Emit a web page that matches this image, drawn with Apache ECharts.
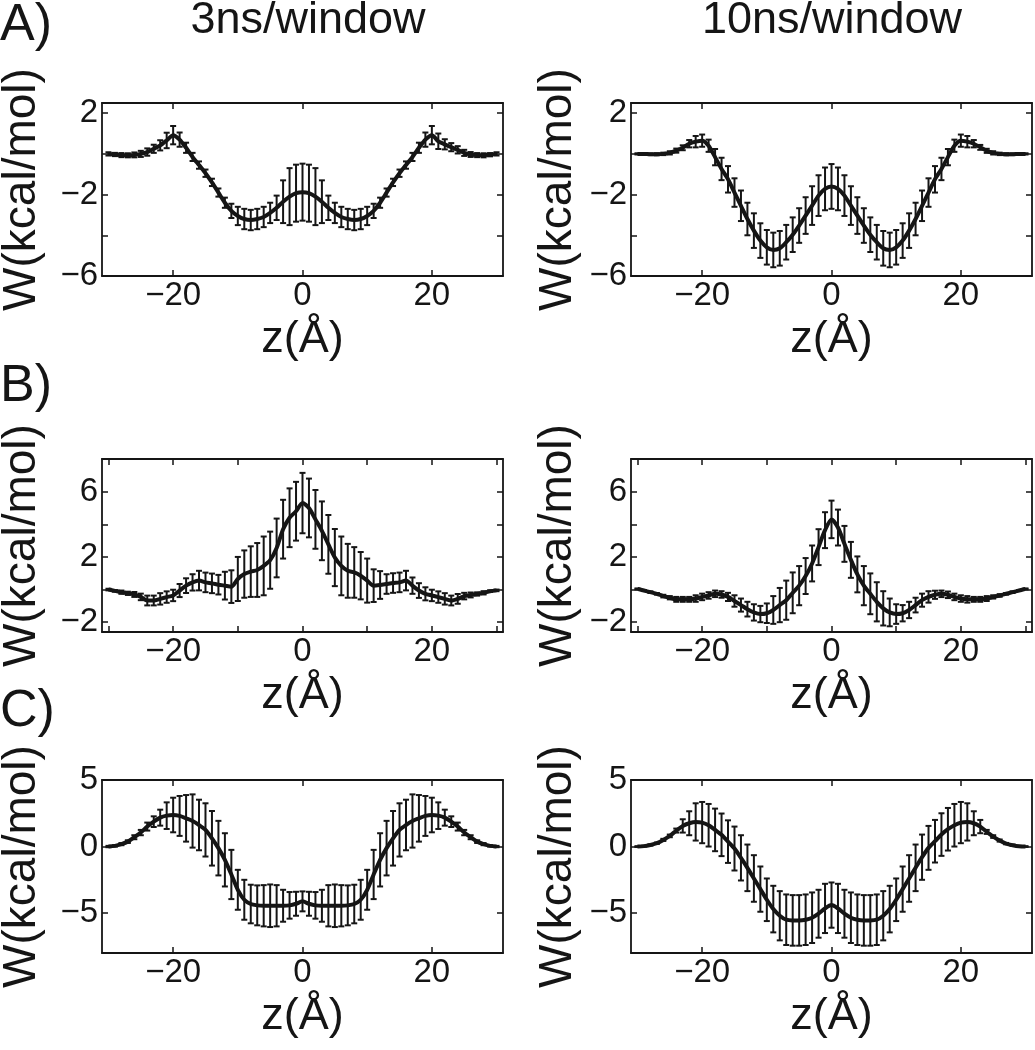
<!DOCTYPE html>
<html>
<head>
<meta charset="utf-8">
<script src="https://cdn.jsdelivr.net/npm/echarts@6/dist/echarts.min.js"></script>
<style>
html,body{margin:0;padding:0;background:#fff;}
#chart{width:1035px;height:1050px;}
</style>
</head>
<body>
<div id="chart"></div>
<script>
// z positions (Å)
const zVals = [-30,-29,-28,-27,-26,-25,-24,-23,-22,-21,-20,-19,-18,-17,-16,-15,-14,-13,-12,-11,-10,-9,-8,-7,-6,-5,-4,-3,-2,-1,0,1,2,3,4,5,6,7,8,9,10,11,12,13,14,15,16,17,18,19,20,21,22,23,24,25,26,27,28,29,30];

// Panel A, 3ns/window
const A3_W = [0,-0.03,-0.06,-0.07,-0.05,0,0.09,0.25,0.42,0.66,0.92,0.7,0.3,-0.15,-0.55,-0.95,-1.4,-1.9,-2.4,-2.8,-3.05,-3.2,-3.25,-3.2,-3.1,-2.9,-2.65,-2.35,-2.1,-1.93,-1.88,-1.93,-2.1,-2.35,-2.65,-2.9,-3.1,-3.2,-3.25,-3.2,-3.05,-2.8,-2.4,-1.9,-1.4,-0.95,-0.55,-0.15,0.3,0.7,0.92,0.62,0.47,0.33,0.2,0.05,-0.03,-0.06,-0.07,-0.04,0];
const A3_E = [0.08,0.08,0.1,0.1,0.12,0.15,0.18,0.2,0.25,0.38,0.45,0.35,0.25,0.2,0.18,0.18,0.18,0.2,0.25,0.35,0.45,0.5,0.5,0.5,0.5,0.5,0.6,1.05,1.4,1.4,1.4,1.4,1.4,1.05,0.6,0.5,0.5,0.5,0.5,0.5,0.45,0.35,0.25,0.2,0.18,0.18,0.18,0.2,0.25,0.35,0.45,0.38,0.25,0.2,0.18,0.15,0.12,0.1,0.1,0.08,0.08];

// Panel A, 10ns/window
const A10_W = [0,0,-0.02,-0.02,0,0.05,0.16,0.3,0.5,0.6,0.65,0.4,-0.16,-0.74,-1.25,-1.9,-2.55,-3.2,-3.77,-4.26,-4.59,-4.72,-4.64,-4.34,-3.97,-3.52,-3.03,-2.54,-2.05,-1.72,-1.6,-1.72,-2.05,-2.54,-3.03,-3.52,-3.97,-4.34,-4.64,-4.72,-4.59,-4.26,-3.77,-3.2,-2.55,-1.9,-1.25,-0.74,-0.16,0.4,0.65,0.6,0.5,0.32,0.15,0.05,0,-0.02,-0.02,0,0];
const A10_E = [0.03,0.03,0.04,0.05,0.06,0.08,0.1,0.12,0.18,0.28,0.3,0.3,0.4,0.55,0.65,0.7,0.75,0.8,0.85,0.85,0.85,0.85,0.85,0.85,0.85,0.85,0.9,0.95,1.0,1.05,1.1,1.05,1.0,0.95,0.9,0.85,0.85,0.85,0.85,0.85,0.85,0.85,0.85,0.8,0.75,0.7,0.65,0.55,0.4,0.3,0.3,0.28,0.18,0.12,0.1,0.08,0.06,0.05,0.04,0.03,0.03];

// Panel B, 3ns/window
const B3_W = [0,-0.08,-0.16,-0.23,-0.3,-0.45,-0.67,-0.67,-0.57,-0.46,-0.36,-0.06,0.24,0.44,0.55,0.44,0.38,0.3,0.24,0.18,0.65,0.95,1.1,1.2,1.45,1.8,2.55,3.7,4.4,4.8,5.3,5.0,4.3,3.6,2.77,1.96,1.45,1.15,1.05,0.85,0.55,0.24,0.28,0.34,0.4,0.44,0.55,0.24,-0.06,-0.26,-0.36,-0.46,-0.57,-0.67,-0.57,-0.4,-0.33,-0.27,-0.2,-0.1,-0.05];
const B3_E = [0.05,0.05,0.1,0.1,0.15,0.2,0.3,0.3,0.35,0.35,0.35,0.4,0.45,0.5,0.6,0.6,0.6,0.6,0.85,1.0,1.35,1.45,1.55,1.65,1.8,1.75,1.8,1.8,1.8,1.8,1.85,1.8,1.8,1.8,1.8,1.75,1.8,1.65,1.55,1.45,1.35,1.0,0.85,0.6,0.6,0.6,0.6,0.5,0.45,0.4,0.35,0.35,0.35,0.3,0.3,0.2,0.15,0.1,0.1,0.05,0.05];

// Panel B, 10ns/window
const B10_W = [0.04,-0.06,-0.16,-0.26,-0.4,-0.5,-0.6,-0.6,-0.6,-0.55,-0.45,-0.36,-0.26,-0.3,-0.45,-0.7,-0.95,-1.2,-1.4,-1.5,-1.45,-1.25,-0.95,-0.65,-0.2,0.24,0.83,1.6,2.6,3.64,4.3,3.8,2.8,1.82,0.93,0.24,-0.26,-0.75,-1.15,-1.4,-1.5,-1.45,-1.25,-0.95,-0.65,-0.45,-0.32,-0.26,-0.32,-0.45,-0.55,-0.6,-0.6,-0.6,-0.55,-0.45,-0.36,-0.26,-0.16,-0.06,0.04];
const B10_E = [0.03,0.03,0.05,0.05,0.08,0.1,0.15,0.15,0.15,0.2,0.2,0.2,0.2,0.2,0.25,0.35,0.4,0.45,0.5,0.5,0.6,0.85,1.05,1.2,1.25,1.2,1.1,1.1,1.1,1.1,1.15,1.1,1.1,1.1,1.1,1.2,1.25,1.2,1.05,0.85,0.6,0.5,0.5,0.45,0.4,0.35,0.25,0.2,0.2,0.2,0.2,0.2,0.15,0.15,0.15,0.1,0.08,0.05,0.05,0.03,0.03];

// Panel C, 3ns/window
const C3_W = [0,0.05,0.18,0.37,0.7,1.05,1.5,1.87,2.17,2.32,2.37,2.3,2.12,1.92,1.62,1.25,0.62,-0.12,-1.0,-2.1,-3.25,-4.0,-4.32,-4.42,-4.45,-4.45,-4.45,-4.45,-4.42,-4.3,-4.12,-4.3,-4.42,-4.45,-4.45,-4.45,-4.45,-4.42,-4.32,-4.0,-3.25,-2.1,-1.0,-0.12,0.62,1.25,1.62,1.92,2.12,2.3,2.37,2.32,2.17,1.87,1.5,1.05,0.7,0.37,0.18,0.05,0];
const C3_E = [0.05,0.05,0.08,0.1,0.15,0.2,0.3,0.4,0.6,1.0,1.3,1.5,1.75,2.0,1.9,2.0,2.05,2.05,2.0,1.85,1.5,1.5,1.45,1.5,1.55,1.6,1.55,1.2,1.0,0.9,0.75,0.9,1.0,1.2,1.55,1.6,1.55,1.5,1.45,1.5,1.5,1.85,2.0,2.05,2.05,2.0,1.9,2.0,1.75,1.5,1.3,1.0,0.6,0.4,0.3,0.2,0.15,0.1,0.08,0.05,0.05];

// Panel C, 10ns/window
const C10_W = [0,0.03,0.12,0.25,0.5,0.8,1.2,1.55,1.75,1.85,1.8,1.6,1.25,0.88,0.37,-0.15,-0.85,-1.6,-2.4,-3.2,-4.0,-4.7,-5.2,-5.5,-5.55,-5.55,-5.5,-5.35,-5.05,-4.65,-4.4,-4.65,-5.05,-5.35,-5.5,-5.55,-5.55,-5.5,-5.2,-4.7,-4.0,-3.2,-2.4,-1.6,-0.8,-0.1,0.4,0.9,1.3,1.6,1.8,1.85,1.75,1.5,1.1,0.75,0.45,0.22,0.1,0.02,0];
const C10_E = [0.03,0.03,0.05,0.05,0.08,0.1,0.15,0.5,0.9,1.4,1.55,1.6,1.6,1.6,1.6,1.65,1.7,1.75,1.75,1.7,1.6,1.75,1.85,1.9,1.9,1.9,1.9,1.9,1.8,1.85,1.7,1.85,1.8,1.9,1.9,1.9,1.9,1.9,1.85,1.75,1.6,1.7,1.75,1.75,1.7,1.65,1.6,1.6,1.6,1.6,1.55,1.4,0.9,0.5,0.15,0.1,0.08,0.05,0.05,0.03,0.03];

// Axis settings
const xRange = [-31, 31];
const xLabelsAll = [-20, 0, 20];
const xTicksA = [-20, 0, 20];
const xTicksB = [-30, -20, -10, 0, 10, 20, 30];
const xTicksC = [-20, 0, 20];
const yRangeA = [-6, 2.5], yTicksA = [-6, -4, -2, 0, 2], yLabelsA = [-6, -2, 2];
const yRangeB = [-2.6, 8], yTicksB = [-2, 0, 2, 4, 6], yLabelsB = [-2, 2, 6];
const yRangeC = [-8, 5], yTicksC = [-5, 0, 5], yLabelsC = [-5, 0, 5];

const titles = ['3ns/window', '10ns/window'];
const rowLetters = ['A)', 'B)', 'C)'];
const xName = 'z(Å)';
const yName = 'W(kcal/mol)';

const FONT = '"Liberation Sans", Arial, Helvetica, sans-serif';
const INK = '#151515';

const panels = [
  {W: A3_W, E: A3_E, left: 102, top: 103, xt: xTicksA, yr: yRangeA, yt: yTicksA, yl: yLabelsA, yGap: 57},
  {W: A10_W, E: A10_E, left: 631, top: 103, xt: xTicksA, yr: yRangeA, yt: yTicksA, yl: yLabelsA, yGap: 50},
  {W: B3_W, E: B3_E, left: 102, top: 459, xt: xTicksB, yr: yRangeB, yt: yTicksB, yl: yLabelsB, yGap: 57},
  {W: B10_W, E: B10_E, left: 631, top: 459, xt: xTicksB, yr: yRangeB, yt: yTicksB, yl: yLabelsB, yGap: 50},
  {W: C3_W, E: C3_E, left: 102, top: 780, xt: xTicksC, yr: yRangeC, yt: yTicksC, yl: yLabelsC, yGap: 57},
  {W: C10_W, E: C10_E, left: 631, top: 780, xt: xTicksC, yr: yRangeC, yt: yTicksC, yl: yLabelsC, yGap: 50}
];

const fmt = v => (v < 0 ? '\u2212' + (-v) : String(v));
const lineStyle = {show: true, onZero: false, lineStyle: {color: INK, width: 1.8}};

const grid = [], xAxis = [], yAxis = [], series = [];
panels.forEach((p, i) => {
  grid.push({left: p.left, top: p.top, width: 401, height: 173, containLabel: false, outerBoundsMode: 'none'});
  xAxis.push({
    gridIndex: i, type: 'value', min: xRange[0], max: xRange[1], position: 'bottom',
    axisLine: lineStyle,
    axisTick: {show: true, inside: true, length: 6, customValues: p.xt, lineStyle: {color: INK, width: 1.5}},
    axisLabel: {show: true, customValues: xLabelsAll, formatter: fmt, fontFamily: FONT, fontSize: 33, color: INK, margin: 3},
    splitLine: {show: false},
    name: xName, nameLocation: 'middle', nameGap: 41,
    nameTextStyle: {fontFamily: FONT, fontSize: 45, color: INK}
  });
  xAxis.push({
    gridIndex: i, type: 'value', min: xRange[0], max: xRange[1], position: 'top',
    axisLine: lineStyle,
    axisTick: {show: true, inside: true, length: 6, customValues: p.xt, lineStyle: {color: INK, width: 1.5}},
    axisLabel: {show: false}, splitLine: {show: false}
  });
  yAxis.push({
    gridIndex: i, type: 'value', min: p.yr[0], max: p.yr[1], position: 'left',
    axisLine: lineStyle,
    axisTick: {show: true, inside: true, length: 6, customValues: p.yt, lineStyle: {color: INK, width: 1.5}},
    axisLabel: {show: true, customValues: p.yl, formatter: fmt, fontFamily: FONT, fontSize: 33, color: INK, margin: 4},
    splitLine: {show: false},
    name: yName, nameLocation: 'middle', nameGap: p.yGap, nameRotate: 90,
    nameTextStyle: {fontFamily: FONT, fontSize: 46, color: INK}
  });
  yAxis.push({
    gridIndex: i, type: 'value', min: p.yr[0], max: p.yr[1], position: 'right',
    axisLine: lineStyle,
    axisTick: {show: true, inside: true, length: 6, customValues: p.yt, lineStyle: {color: INK, width: 1.5}},
    axisLabel: {show: false}, splitLine: {show: false}
  });
  const errData = zVals.map((z, k) => [z, p.W[k] - p.E[k], p.W[k] + p.E[k]]);
  series.push({
    type: 'custom', xAxisIndex: 2 * i, yAxisIndex: 2 * i, data: errData,
    encode: {x: 0, y: [1, 2]}, silent: true, z: 2,
    renderItem: function (params, api) {
      const x = api.value(0);
      const top = api.coord([x, api.value(2)]);
      const bot = api.coord([x, api.value(1)]);
      const w = 3;
      const st = {stroke: INK, lineWidth: 2};
      return {type: 'group', children: [
        {type: 'line', shape: {x1: top[0], y1: top[1], x2: bot[0], y2: bot[1]}, style: st},
        {type: 'line', shape: {x1: top[0] - w, y1: top[1], x2: top[0] + w, y2: top[1]}, style: st},
        {type: 'line', shape: {x1: bot[0] - w, y1: bot[1], x2: bot[0] + w, y2: bot[1]}, style: st}
      ]};
    }
  });
  series.push({
    type: 'line', xAxisIndex: 2 * i, yAxisIndex: 2 * i,
    data: zVals.map((z, k) => [z, p.W[k]]),
    showSymbol: false, symbol: 'none', smooth: 0.25, z: 3,
    lineStyle: {color: INK, width: 4}, silent: true
  });
});

const graphic = [
  {type: 'text', left: 0, top: 0, style: {text: rowLetters[0], font: '52px ' + FONT, fill: INK}},
  {type: 'text', left: 0, top: 361, style: {text: rowLetters[1], font: '52px ' + FONT, fill: INK}},
  {type: 'text', left: 0, top: 686, style: {text: rowLetters[2], font: '52px ' + FONT, fill: INK}},
  {type: 'text', x: 308, y: 21, style: {text: titles[0], font: '45px ' + FONT, fill: INK, textAlign: 'center', textVerticalAlign: 'middle'}},
  {type: 'text', x: 832, y: 21, style: {text: titles[1], font: '45px ' + FONT, fill: INK, textAlign: 'center', textVerticalAlign: 'middle'}}
];

const chart = echarts.init(document.getElementById('chart'), null, {renderer: 'canvas'});
chart.setOption({
  animation: false,
  backgroundColor: '#fff',
  grid, xAxis, yAxis, series, graphic
});
</script>
</body>
</html>
